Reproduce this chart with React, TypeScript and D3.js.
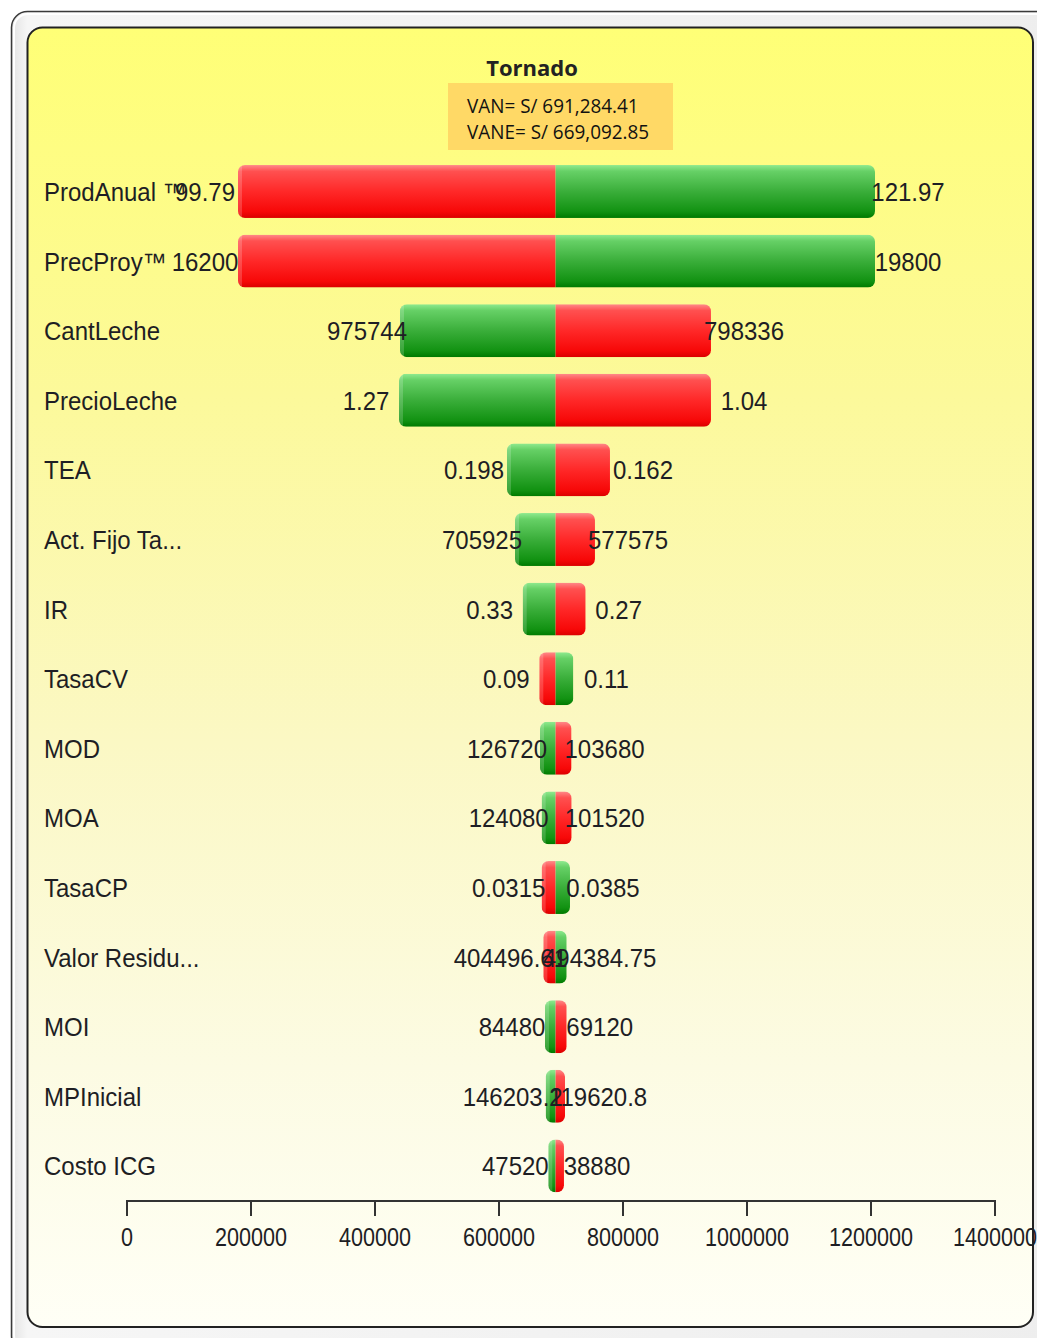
import React from "react";
import * as d3 from "d3";

const categories = [
  "ProdAnual ™", "PrecProy™", "CantLeche", "PrecioLeche", "TEA", "Act. Fijo Ta...", "IR",
  "TasaCV", "MOD", "MOA", "TasaCP", "Valor Residu...", "MOI", "MPInicial", "Costo ICG",
];
// NPV at the left end and right end of each bar
const leftNPV = [179000, 179000, 440300, 438700, 612900, 625800, 638200, 665000, 666100, 668800, 668800, 671500, 674200, 675300, 679500];
const rightNPV = [1206500, 1206500, 941900, 941900, 779000, 754800, 739800, 719900, 717000, 717200, 714500, 709200, 709200, 706500, 704800];
// input values shown at each end
const leftLabels = ["99.79", "16200", "975744", "1.27", "0.198", "705925", "0.33", "0.09", "126720", "124080", "0.0315", "404496.61", "84480", "146203.2", "47520"];
const rightLabels = ["121.97", "19800", "798336", "1.04", "0.162", "577575", "0.27", "0.11", "103680", "101520", "0.0385", "494384.75", "69120", "119620.8", "38880"];
const baseNPV = 691284.41;
const axisTicks = [0, 200000, 400000, 600000, 800000, 1000000, 1200000, 1400000];
const titleText = "Tornado";
const noteLines = ["VAN= S/ 691,284.41", "VANE= S/ 669,092.85"];

const W = 1037;
const H = 1338;

export default function App() {
  const x = d3.scaleLinear().domain([0, 1400000]).range([127, 995]);
  const y = d3.scaleBand<string>().domain(categories).range([156.7, 1200.7]).paddingInner(0.24).paddingOuter(0.12);
  const bw = y.bandwidth();
  const cx = x(baseNPV);
  const labelFont = "'Liberation Sans', Arial, sans-serif";

  return (
    <svg width={W} height={H} style={{ position: "absolute", left: 0, top: 0 }} xmlns="http://www.w3.org/2000/svg">
      <defs>
        <linearGradient id="frameG" x1="0" y1="0" x2="1" y2="0">
          <stop offset="0" stopColor="#e2e2e2" />
          <stop offset="0.015" stopColor="#f6f6f6" />
          <stop offset="1" stopColor="#eeeeee" />
        </linearGradient>
        <linearGradient id="panelG" x1="0" y1="0" x2="0" y2="1">
          <stop offset="0" stopColor="#FFFF76" />
          <stop offset="0.28" stopColor="#FCF99A" />
          <stop offset="0.55" stopColor="#FBF8C4" />
          <stop offset="0.8" stopColor="#FCFBE3" />
          <stop offset="1" stopColor="#FFFFF6" />
        </linearGradient>
        <linearGradient id="redG" x1="0" y1="0" x2="0" y2="1">
          <stop offset="0" stopColor="#FF8A8A" />
          <stop offset="0.12" stopColor="#FF5050" />
          <stop offset="0.5" stopColor="#FF2828" />
          <stop offset="0.88" stopColor="#F70808" />
          <stop offset="1" stopColor="#DA0000" />
        </linearGradient>
        <linearGradient id="greenG" x1="0" y1="0" x2="0" y2="1">
          <stop offset="0" stopColor="#8FEA8F" />
          <stop offset="0.12" stopColor="#66D066" />
          <stop offset="0.5" stopColor="#3AAE3A" />
          <stop offset="0.88" stopColor="#129212" />
          <stop offset="1" stopColor="#007A00" />
        </linearGradient>
        {categories.map((c, i) => {
          const x0 = x(Math.min(leftNPV[i], rightNPV[i]));
          const x1 = x(Math.max(leftNPV[i], rightNPV[i]));
          return (
            <clipPath id={`clip${i}`} key={c}>
              <rect x={x0} y={y(c)!} width={x1 - x0} height={bw} rx={7} ry={7} />
            </clipPath>
          );
        })}
      </defs>

      {/* outer frame */}
      <rect x={11.5} y={11.5} width={1045} height={1340} rx={16} fill="url(#frameG)" stroke="#3a3a3a" strokeWidth={1.5} />
      <rect x={14} y={14} width={1040} height={1335} rx={14} fill="none" stroke="#ffffff" strokeWidth={2} />
      {/* inner panel */}
      <rect x={27.5} y={27.5} width={1005.5} height={1299.5} rx={15} fill="url(#panelG)" stroke="#222" strokeWidth={2} />

      {/* title */}
      <text x={532} y={76} textAnchor="middle" fontFamily="'Open Sans', sans-serif" fontWeight={700} fontSize={22} fill="#222">
        {titleText}
      </text>
      <rect x={448} y={83} width={225} height={67} fill="#FFD966" />
      {noteLines.map((t, i) => (
        <text key={t} transform={`translate(467,${113 + i * 26}) scale(0.97,1)`} fontFamily="'Open Sans', sans-serif" fontSize={19.5} fill="#111">
          {t}
        </text>
      ))}

      {/* bars */}
      {categories.map((c, i) => {
        const lv = leftNPV[i];
        const rv = rightNPV[i];
        const x0 = x(lv);
        const x1 = x(rv);
        const leftIsHigh = parseFloat(leftLabels[i]) > parseFloat(rightLabels[i]);
        const leftFill = leftIsHigh ? "url(#greenG)" : "url(#redG)";
        const rightFill = leftIsHigh ? "url(#redG)" : "url(#greenG)";
        const yy = y(c)!;
        return (
          <g key={c} clipPath={`url(#clip${i})`}>
            <rect x={x0} y={yy} width={cx - x0} height={bw} fill={leftFill} />
            <rect x={cx} y={yy} width={x1 - cx} height={bw} fill={rightFill} />
            <rect x={x0} y={yy} width={4} height={bw} fill="#fff" opacity={0.18} />
          </g>
        );
      })}

      {/* category labels */}
      {categories.map((c) => (
        <text key={c} transform={`translate(44,${y(c)! + bw / 2 + 9.5}) scale(1,1.04)`} fontFamily={labelFont} fontSize={24} fill="#1e1e24">
          {c}
        </text>
      ))}

      {/* value labels */}
      {categories.map((c, i) => {
        const yy = y(c)! + bw / 2 + 9.5;
        return (
          <g key={c} fontFamily={labelFont} fontSize={24} fill="#1e1e24" textAnchor="middle">
            <text transform={`translate(${x(leftNPV[i]) - 33},${yy}) scale(1,1.04)`}>{leftLabels[i]}</text>
            <text transform={`translate(${x(rightNPV[i]) + 33},${yy}) scale(1,1.04)`}>{rightLabels[i]}</text>
          </g>
        );
      })}

      {/* axis */}
      <g>
        <line x1={x(0)} x2={x(1400000)} y1={1201} y2={1201} stroke="#333" strokeWidth={2} />
        {axisTicks.map((t) => (
          <g key={t}>
            <line x1={x(t)} x2={x(t)} y1={1200} y2={1216} stroke="#333" strokeWidth={2} />
            <text transform={`translate(${x(t)},1246) scale(0.9,1.05)`} textAnchor="middle" fontFamily={labelFont} fontSize={24} fill="#1e1e24">
              {t}
            </text>
          </g>
        ))}
      </g>
    </svg>
  );
}
